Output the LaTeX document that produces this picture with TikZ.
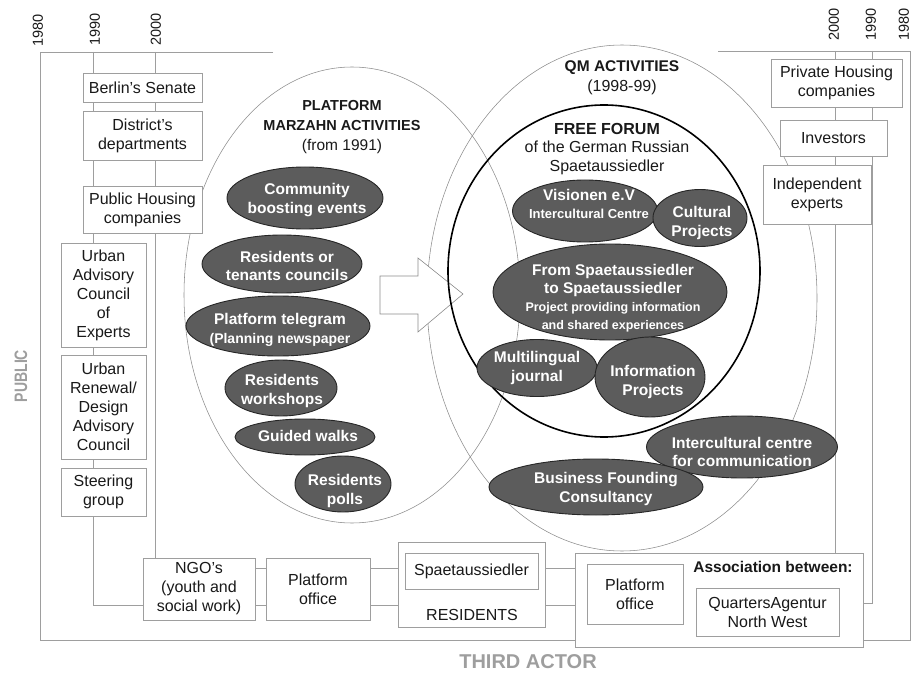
\documentclass[tikz,border=0pt]{standalone}
\usepackage{fontspec}
\setmainfont{Liberation Sans}
\usetikzlibrary{shapes.geometric}
\pgfdeclarelayer{background}
\pgfsetlayers{background,main}
\definecolor{framegray}{gray}{0.62}
\definecolor{ringgray}{gray}{0.55}
\definecolor{blobfill}{gray}{0.36}
\definecolor{blobedge}{gray}{0.15}
\definecolor{labelgray}{gray}{0.62}
\definecolor{ink}{gray}{0.1}

\begin{document}
\begin{tikzpicture}[x=1pt,y=-1pt,
  every node/.style={font=\fontsize{16}{19}\selectfont, text=ink, align=center, inner sep=0pt},
  frame/.style={draw=framegray, line width=0.6pt},
  actorbox/.style={draw=framegray, fill=white, line width=0.6pt},
  ring/.style={draw=ringgray, line width=0.55pt},
  blob/.style={ellipse, draw=blobedge, fill=blobfill, line width=0.9pt, inner sep=0pt},
  blobtext/.style={text=white, font=\bfseries\fontsize{15.5}{18.5}\selectfont},
  yearlabel/.style={rotate=90, anchor=west, font=\fontsize{14.5}{14}\selectfont},
  sidelabel/.style={text=labelgray, font=\bfseries\fontsize{20}{20}\selectfont},
]
\useasboundingbox (0,0) rectangle (914,674);

% ---------- time axis anchors ----------
\coordinate (l1980) at (40,52);
\coordinate (l1990) at (93,52);
\coordinate (l2000) at (155,52);
\coordinate (ltopend) at (273,52);
\coordinate (lbottom) at (40,640);
\coordinate (rbottom) at (910,640);
\coordinate (r1980) at (910,51);
\coordinate (r1990) at (872,51);
\coordinate (r2000) at (835,51);
\coordinate (rtopstart) at (718,51);
\coordinate (upperrow) at (0,568);
\coordinate (lowerrow) at (0,605);
\coordinate (assocrow) at (0,603);

\node[yearlabel] (y1980l) at (38,47) {1980};
\node[yearlabel] (y1990l) at (95,46) {1990};
\node[yearlabel] (y2000l) at (156,46) {2000};
\node[yearlabel] (y2000r) at (834,41) {2000};
\node[yearlabel] (y1990r) at (871,41) {1990};
\node[yearlabel] (y1980r) at (904,41) {1980};

\node[sidelabel, rotate=90, font=\bfseries\fontsize{18}{18}\selectfont] (public) at (21,376) {\scalebox{0.78}[1]{PUBLIC}};
\node[sidelabel] (third) at (528,662) {THIRD ACTOR};

% ---------- activity areas ----------
\draw[ring] (352,295) ellipse [x radius=168pt, y radius=228pt];
\draw[ring] (622,298) ellipse [x radius=195pt, y radius=253pt];

\node[font=\bfseries\fontsize{14.5}{20}\selectfont] (pmtitle) at (342,127)
  {PLATFORM\\MARZAHN ACTIVITIES\\\mdseries\fontsize{15.5}{20}\selectfont (from 1991)};
\node[font=\bfseries\fontsize{15.5}{20}\selectfont] (qmtitle) at (622,78)
  {QM ACTIVITIES\\\mdseries\fontsize{16}{20}\selectfont (1998-99)};

% transfer arrow
\draw[draw=ringgray, fill=white, line width=0.6pt]
  (380,276) -- (418,276) -- (418,258) -- (463,294) -- (418,332) -- (418,314) -- (380,314) -- cycle;

% free forum circle
\draw[black, line width=1.6pt] (604,271) ellipse [x radius=156pt, y radius=166pt];
\node[font=\fontsize{16}{18.5}\selectfont] (fftitle) at (607,149)
  {\textbf{FREE FORUM}\\of the German Russian\\Spaetaussiedler};

% ---------- left: public actors ----------
\node[actorbox, minimum width=119pt, minimum height=29pt] (senate) at (142.5,87.5) {Berlin's Senate};
\node[actorbox, minimum width=119pt, minimum height=49pt] (district) at (142.5,135.5) {District's\\departments};
\node[actorbox, minimum width=119pt, minimum height=47pt] (pubhousing) at (142.5,209.5) {Public Housing\\companies};
\node[actorbox, minimum width=85pt, minimum height=104pt] (advisory) at (103.5,295) {Urban\\Advisory\\Council\\of\\Experts};
\node[actorbox, minimum width=85pt, minimum height=104pt] (renewal) at (103.5,407) {Urban\\Renewal/\\Design\\Advisory\\Council};
\node[actorbox, minimum width=85pt, minimum height=48pt] (steering) at (103.5,492) {Steering\\group};

% ---------- right: private actors ----------
\node[actorbox, minimum width=131pt, minimum height=48pt] (privhousing) at (836.5,83) {Private Housing\\companies};
\node[actorbox, minimum width=107pt, minimum height=36pt] (investors) at (833.5,138) {Investors};
\node[actorbox, minimum width=108pt, minimum height=59pt] (experts) at (817,194.5) {Independent\\experts};

% ---------- bottom: third actor ----------
\node[actorbox, minimum width=112pt, minimum height=62pt] (ngo) at (199,589) {NGO's\\(youth and\\social work)};
\node[actorbox, minimum width=104pt, minimum height=62pt] (office) at (318,589) {Platform\\office};
\node[actorbox, minimum width=147pt, minimum height=85pt] (residents) at (471.5,584.5) {};
\node[actorbox, minimum width=133pt, minimum height=36pt] (spaet) at (471.5,571) {Spaetaussiedler};
\node (restext) at (472,615) {RESIDENTS};
\node[actorbox, minimum width=288pt, minimum height=94pt] (assoc) at (719,600) {};
\node[actorbox, minimum width=96pt, minimum height=60pt] (qaoffice) at (635,594) {Platform\\office};
\node[font=\bfseries\fontsize{15.5}{18}\selectfont] (assoctitle) at (773,567) {Association between:};
\node[actorbox, minimum width=143pt, minimum height=48pt] (quarters) at (767.5,612) {QuartersAgentur\\North West};

% ---------- frame, time lines and links (behind the boxes) ----------
\begin{pgfonlayer}{background}
  \draw[frame] (ltopend) -- (l1980) -- (lbottom) -- (rbottom) -- (r1980) -- (rtopstart);
  \draw[frame] (l1990) |- (ngo.west |- lowerrow);
  \draw[frame] (l2000) -- (l2000 |- ngo.north);
  \draw[frame] (r2000) -- (r2000 |- assoc.north);
  \draw[frame] (r1990) |- (assoc.east |- assocrow);
  \draw[frame] (ngo.east |- upperrow) -- (office.west |- upperrow);
  \draw[frame] (ngo.east |- lowerrow) -- (office.west |- lowerrow);
  \draw[frame] (office.east |- upperrow) -- (residents.west |- upperrow);
  \draw[frame] (office.east |- lowerrow) -- (residents.west |- lowerrow);
  \draw[frame] (residents.east |- upperrow) -- (assoc.west |- upperrow);
  \draw[frame] (residents.east |- lowerrow) -- (assoc.west |- lowerrow);
\end{pgfonlayer}

% ---------- Platform Marzahn activities ----------
\node[blob, minimum width=156pt, minimum height=62pt] (community) at (305,198) {};
\node[blobtext] (communityt) at (307,200) {Community\\boosting events};
\node[blob, minimum width=160pt, minimum height=58pt] (councils) at (282,264) {};
\node[blobtext] (councilst) at (287,266) {Residents or\\tenants councils};
\node[blob, minimum width=184pt, minimum height=60pt] (telegram) at (278,326) {};
\node[blobtext] (telegramt) at (280,330) {Platform telegram\\\fontsize{14}{17}\selectfont(Planning newspaper};
\node[blob, minimum width=112pt, minimum height=56pt] (workshops) at (281,388) {};
\node[blobtext] (workshopst) at (282,391) {Residents\\workshops};
\node[blob, minimum width=140pt, minimum height=36pt] (walks) at (305,437) {};
\node[blobtext] (walkst) at (308,436) {Guided walks};
\node[blob, minimum width=96pt, minimum height=56pt] (polls) at (343,484) {};
\node[blobtext] (pollst) at (345,491) {Residents\\polls};

% ---------- QM activities ----------
\node[blob, minimum width=145pt, minimum height=62pt] (visionen) at (585,211) {};
\node[blobtext] (visionent) at (589,204) {Visionen e.V\\\fontsize{13}{16}\selectfont Intercultural Centre};
\node[blob, minimum width=94pt, minimum height=57pt] (cultural) at (700,218) {};
\node[blobtext] (culturalt) at (702,223) {Cultural\\Projects};
\node[blob, minimum width=234pt, minimum height=96pt] (fromto) at (610,292) {};
\node[blobtext, font=\bfseries\fontsize{15.5}{18}\selectfont] (fromtot) at (613,298)
  {From Spaetaussiedler\\to Spaetaussiedler\\\fontsize{12.5}{13}\selectfont Project providing information\\\fontsize{12.5}{13}\selectfont and shared experiences};
\node[blob, minimum width=120pt, minimum height=57pt] (journal) at (537,368) {};
\node[blobtext] (journalt) at (537,368) {Multilingual\\journal};
\node[blob, minimum width=110pt, minimum height=80pt] (infoproj) at (650,377) {};
\node[blobtext] (infoprojt) at (653,382) {Information\\Projects};
\node[blob, minimum width=191pt, minimum height=62pt] (intercult) at (742,447) {};
\node[blobtext] (intercultt) at (742,452) {Intercultural centre\\for communication};
\node[blob, minimum width=214pt, minimum height=56pt] (business) at (596,487) {};
\node[blobtext] (businesst) at (606,489) {Business Founding\\Consultancy};

\end{tikzpicture}
\end{document}
